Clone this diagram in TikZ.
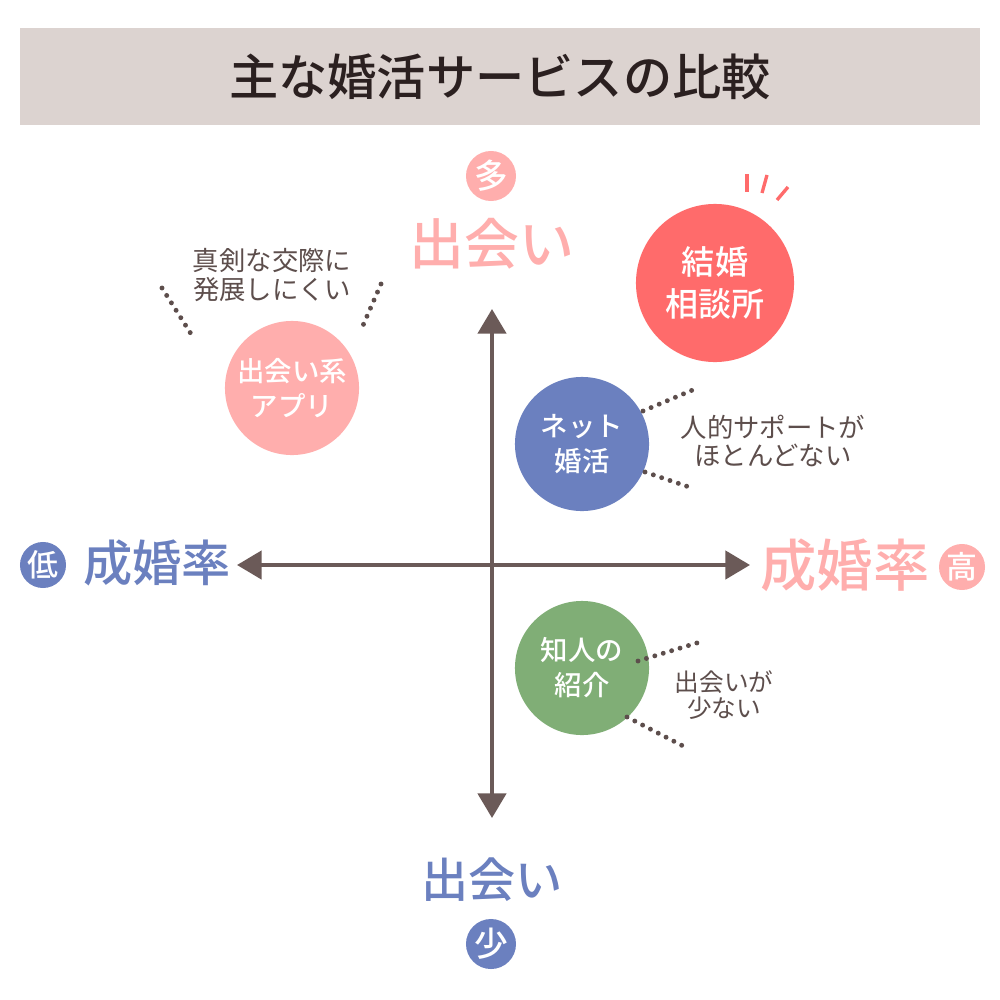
\documentclass[tikz,border=0pt]{standalone}
\usepackage{fontspec}
\setmainfont{Noto Sans CJK JP}
\newfontfamily\medfont{Noto Sans CJK JP Medium}
\usetikzlibrary{arrows.meta}

\definecolor{bandgray}{HTML}{DCD3D0}
\definecolor{titleink}{HTML}{2B2020}
\definecolor{axisbrown}{HTML}{6B5A58}
\definecolor{noteink}{HTML}{5D4E4C}
\definecolor{pinkmark}{HTML}{FFAEAD}
\definecolor{redmark}{HTML}{FF6B6B}
\definecolor{bluemark}{HTML}{6B80BF}
\definecolor{greenmark}{HTML}{80AE76}

\begin{document}
\begin{tikzpicture}[x=0.01cm, y=-0.01cm,
	bubble/.style={circle, inner sep=0pt, minimum size=1.34cm, text=white, align=center, font=\medfont\fontsize{7.8pt}{10pt}\selectfont},
	badge/.style={circle, inner sep=0pt, minimum size=0.5cm, text=white, font=\medfont\fontsize{9.6pt}{10pt}\selectfont},
	note/.style={text=noteink, align=center, font=\fontsize{7.5pt}{8.3pt}\selectfont},
	dots/.style={noteink, line width=1.4pt, line cap=round, dash pattern=on 0pt off 2.5pt},
	axis/.style={axisbrown, line width=1.15pt, {Triangle[length=7pt,width=8pt]}-{Triangle[length=7pt,width=8pt]}}]

	\useasboundingbox (0,0) rectangle (1000,1000);

	% title
	\node[fill=bandgray, minimum width=9.6cm, minimum height=0.97cm, text=titleink, font=\medfont\fontsize{14pt}{16pt}\selectfont] (title) at (500,76.5) {主な婚活サービスの比較};

	% axes
	\coordinate (axN) at (492,309);
	\coordinate (axS) at (492,818);
	\coordinate (axW) at (237,565);
	\coordinate (axE) at (750,565);
	\draw[axis] (axS) -- (axN);
	\draw[axis] (axW) -- (axE);

	% axis labels
	\node[badge, fill=pinkmark] (many) at (491,176) {多};
	\node[text=pinkmark, font=\medfont\fontsize{15.6pt}{18pt}\selectfont] (meetTop) at (492,244) {出会い};
	\node[text=bluemark, font=\medfont\fontsize{13.4pt}{16pt}\selectfont] (meetBot) at (492,880) {出会い};
	\node[badge, fill=bluemark] (few) at (491,944) {少};
	\node[badge, fill=bluemark, minimum size=0.46cm, font=\medfont\fontsize{8.8pt}{10pt}\selectfont] (low) at (43,565) {低};
	\node[text=bluemark, font=\medfont\fontsize{14pt}{16pt}\selectfont] (rateL) at (157,563) {成婚率};
	\node[text=pinkmark, font=\medfont\fontsize{16pt}{18pt}\selectfont] (rateR) at (845,565) {成婚率};
	\node[badge, fill=pinkmark, minimum size=0.46cm, font=\medfont\fontsize{8.8pt}{10pt}\selectfont] (high) at (962,567) {高};

	% services
	\node[bubble, fill=redmark, minimum size=1.58cm, font=\medfont\fontsize{9.4pt}{12pt}\selectfont] (agency) at (715,283) {結婚\\相談所};
	\node[bubble, fill=pinkmark] (app) at (292,388) {出会い系\\アプリ};
	\node[bubble, fill=bluemark] (online) at (582,444) {ネット\\婚活};
	\node[bubble, fill=greenmark] (intro) at (582,668) {知人の\\紹介};

	% notes
	\node[note, font=\fontsize{7.5pt}{8.5pt}\selectfont] (appNote) at (272,275) {真剣な交際に\\発展しにくい};
	\node[note, font=\fontsize{7.5pt}{8pt}\selectfont] (onlineNote) at (773,441) {人的サポートが\\ほとんどない};
	\node[note, font=\fontsize{7pt}{7.4pt}\selectfont] (introNote) at (724,695) {出会いが\\少ない};

	% dotted marks
	\foreach \n/\xa/\ya/\xb/\yb in {appL/162/288/193/337, appR/381/284/361/330,
		onU/643/411/695/389, onD/645/472/692/488,
		inU/638/661/700/642, inD/627/717/685/747} {
		\coordinate (\n-a) at (\xa,\ya);
		\coordinate (\n-b) at (\xb,\yb);
		\draw[dots] (\n-a) -- (\n-b);
	}

	% sparkle
	\foreach \n/\xa/\ya/\xb/\yb in {s1/747/174/747/192, s2/767/175/762/193, s3/788/187/777/200} {
		\coordinate (\n-a) at (\xa,\ya);
		\coordinate (\n-b) at (\xb,\yb);
		\draw[redmark, line width=0.95pt] (\n-a) -- (\n-b);
	}

\end{tikzpicture}
\end{document}
